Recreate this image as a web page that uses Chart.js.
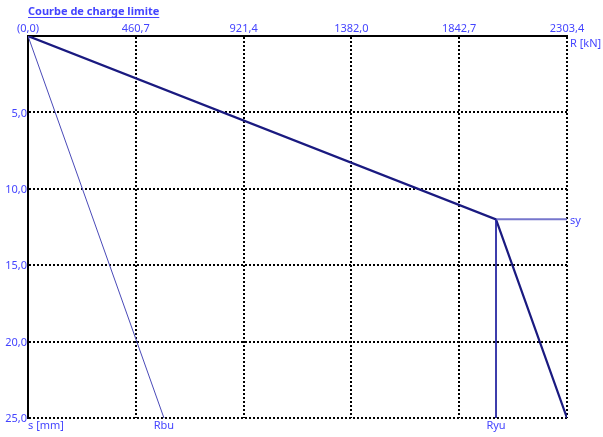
<!DOCTYPE html>
<html>
<head>
<meta charset="utf-8">
<script src="https://cdn.jsdelivr.net/npm/chart.js@4"></script>
<style>
  html, body { margin: 0; padding: 0; background: #fff; }
  #wrap { width: 603px; height: 437px; }
</style>
</head>
<body>
<div id="wrap"><canvas id="chart"></canvas></div>
<script>
// courbe de charge limite
const loadR = [0, 2000, 2303.4];
const settleS = [0, 12, 25];
const rbuR = [0, 581];
const rbuS = [0, 25];
const ryuR = [2000, 2000];
const ryuS = [12, 25];
const syR = [2000, 2303.4];
const syS = [12, 12];
const xTicks = [0, 460.7, 921.4, 1382.0, 1842.7, 2303.4];
const yTicks = [0, 5, 10, 15, 20, 25];

const blue = "#4444ff";
const font = "'Noto Sans', sans-serif";

const pts = (xs, ys) => xs.map((x, i) => ({ x: x, y: ys[i] }));
const fmt = (v) => v.toFixed(1).replace(".", ",");

// titre + libelles
const labelsPlugin = {
  id: "labels",
  afterDraw(chart) {
    const ctx = chart.ctx;
    const xs = chart.scales.x;
    const ys = chart.scales.y;
    ctx.save();
    ctx.fillStyle = blue;
    ctx.strokeStyle = blue;
    ctx.font = "bold 11px " + font;
    ctx.textBaseline = "alphabetic";
    ctx.textAlign = "left";
    const t = "Courbe de charge limite";
    ctx.fillText(t, 28, 15);
    const w = ctx.measureText(t).width;
    ctx.lineWidth = 1;
    ctx.beginPath();
    ctx.moveTo(28, 17.5);
    ctx.lineTo(28 + w, 17.5);
    ctx.stroke();

    ctx.font = "11px " + font;
    ctx.textBaseline = "top";
    ctx.fillText("R [kN]", xs.right + 3, ys.top + 2);
    ctx.fillText("s [mm]", xs.left, ys.bottom + 2);
    ctx.textAlign = "center";
    ctx.fillText("Rbu", xs.getPixelForValue(rbuR[1]), ys.bottom + 2);
    ctx.fillText("Ryu", xs.getPixelForValue(ryuR[0]), ys.bottom + 2);
    ctx.textAlign = "left";
    ctx.textBaseline = "middle";
    ctx.fillText("sy", xs.right + 3, ys.getPixelForValue(syS[0]) + 1);
    ctx.restore();
  },
};

new Chart(document.getElementById("chart"), {
  type: "scatter",
  data: {
    datasets: [
      { data: pts(rbuR, rbuS), showLine: true, borderColor: "#4a4ab8", borderWidth: 1, pointRadius: 0 },
      { data: pts(ryuR, ryuS), showLine: true, borderColor: "#2222a0", borderWidth: 1, pointRadius: 0 },
      { data: pts(syR, syS), showLine: true, borderColor: "#7676cc", borderWidth: 2, pointRadius: 0 },
      { data: pts(loadR, settleS), showLine: true, borderColor: "#1a1a80", borderWidth: 2.2, pointRadius: 0 },
    ],
  },
  options: {
    responsive: true,
    maintainAspectRatio: false,
    animation: false,
    layout: { padding: { left: 0, right: 36, top: 0, bottom: 19 } },
    plugins: { legend: { display: false }, tooltip: { enabled: false }, title: { display: false } },
    scales: {
      x: {
        type: "linear",
        position: "top",
        min: 0,
        max: xTicks[xTicks.length - 1],
        afterBuildTicks: (s) => { s.ticks = xTicks.map((v) => ({ value: v })); },
        afterFit: (s) => { s.height = 36; },
        ticks: {
          color: blue,
          font: { family: font, size: 11 },
          padding: 1,
          maxRotation: 0,
          autoSkip: false,
          callback: (v) => (v === 0 ? "(0,0)" : fmt(v)),
        },
        grid: { color: "#000", lineWidth: 2, drawTicks: false },
        border: { display: true, color: "#000", width: 2, dash: [2, 2] },
      },
      y: {
        type: "linear",
        reverse: true,
        min: 0,
        max: 25,
        afterBuildTicks: (s) => { s.ticks = yTicks.map((v) => ({ value: v })); },
        afterFit: (s) => { s.width = 28; },
        ticks: {
          color: blue,
          font: { family: font, size: 11 },
          padding: 1,
          labelOffset: 1,
          autoSkip: false,
          callback: (v) => (v === 0 ? "" : fmt(v)),
        },
        grid: { color: "#000", lineWidth: 2, drawTicks: false },
        border: { display: true, color: "#000", width: 2, dash: [2, 2] },
      },
    },
  },
  plugins: [labelsPlugin],
});
</script>
</body>
</html>
